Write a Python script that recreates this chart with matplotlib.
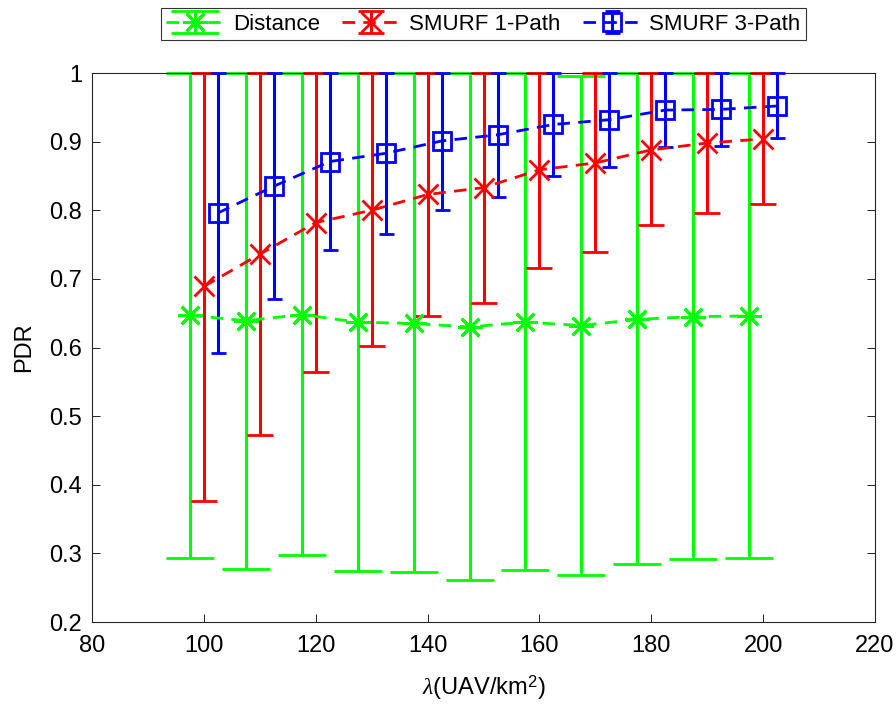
import matplotlib
matplotlib.use('Agg')
import matplotlib.pyplot as plt

plt.rcParams['font.family'] = ['Liberation Sans', 'DejaVu Sans']
plt.rcParams['mathtext.fontset'] = 'custom'
plt.rcParams['mathtext.rm'] = 'Liberation Sans'
plt.rcParams['mathtext.it'] = 'Liberation Serif:italic'

# UAV density (UAV/km^2), series are shifted slightly so bars don't overlap
x_dist = [97.5, 107.5, 117.5, 127.5, 137.5, 147.5, 157.5, 167.5, 177.5, 187.5, 197.5]
x_smurf1 = [100, 110, 120, 130, 140, 150, 160, 170, 180, 190, 200]
x_smurf3 = [102.5, 112.5, 122.5, 132.5, 142.5, 152.5, 162.5, 172.5, 182.5, 192.5, 202.5]

# mean PDR and min/max range for each scheme
dist_mean = [0.647, 0.639, 0.648, 0.637, 0.635, 0.630, 0.637, 0.632, 0.641, 0.645, 0.646]
dist_low = [0.294, 0.277, 0.297, 0.274, 0.273, 0.261, 0.276, 0.268, 0.285, 0.292, 0.294]
dist_high = [1.0, 1.0, 1.0, 1.0, 1.0, 1.0, 1.0, 0.996, 1.0, 1.0, 1.0]

smurf1_mean = [0.689, 0.736, 0.782, 0.800, 0.823, 0.833, 0.859, 0.869, 0.888, 0.898, 0.904]
smurf1_low = [0.376, 0.472, 0.564, 0.602, 0.646, 0.665, 0.716, 0.739, 0.779, 0.796, 0.809]
smurf1_high = [1.0] * 11

smurf3_mean = [0.796, 0.835, 0.871, 0.883, 0.901, 0.910, 0.925, 0.932, 0.946, 0.947, 0.952]
smurf3_low = [0.592, 0.670, 0.742, 0.765, 0.800, 0.820, 0.850, 0.863, 0.892, 0.894, 0.905]
smurf3_high = [1.0] * 11

fig = plt.figure(figsize=(8.96, 7.09), dpi=100)
ax = fig.add_axes([0.1027, 0.1227, 0.8739, 0.7743])

series = [
    ('Distance', x_dist, dist_mean, dist_low, dist_high, '#00ff00', (8, 2, 0), 18, 17),
    ('SMURF 1-Path', x_smurf1, smurf1_mean, smurf1_low, smurf1_high, '#ff0000', 'x', 14, 9.4),
    ('SMURF 3-Path', x_smurf3, smurf3_mean, smurf3_low, smurf3_high, '#0000ff', 's', 13, 5.4),
]

for label, xs, mean, low, high, color, marker, msize, cap in series:
    yerr = [[m - l for m, l in zip(mean, low)], [h - m for m, h in zip(mean, high)]]
    line, caps, bars = ax.errorbar(xs, mean, yerr=yerr, color=color, ecolor=color, elinewidth=2.2,
                                   capsize=cap, capthick=2.2, linestyle=(0, (4.5, 3)), linewidth=2.0,
                                   marker=marker, markersize=msize, markeredgewidth=2.0,
                                   markerfacecolor='none', markeredgecolor=color, label=label)
    # caps sitting on the y=1 limit are drawn in full
    for c in caps:
        c.set_clip_on(False)

ax.set_xlim(80, 220)
ax.set_ylim(0.2, 1.0)
ax.set_xticks(range(80, 221, 20))
ax.set_yticks([0.2, 0.3, 0.4, 0.5, 0.6, 0.7, 0.8, 0.9, 1.0])
ax.set_yticklabels(['0.2', '0.3', '0.4', '0.5', '0.6', '0.7', '0.8', '0.9', '1'])
ax.tick_params(direction='in', length=6, width=0.6, labelsize=17, top=True, right=True)
ax.tick_params(axis='x', pad=9)
ax.tick_params(axis='y', pad=7)
for s in ax.spines.values():
    s.set_linewidth(0.8)
    s.set_color('#262626')

ax.set_xlabel(r'$\it{\lambda}$(UAV/km$^2$)', fontsize=17, labelpad=12)
ax.set_ylabel('PDR', fontsize=17, labelpad=10)

leg = ax.legend(loc='lower center', bbox_to_anchor=(0.5, 1.06), ncol=3, fontsize=16,
                frameon=True, fancybox=False, edgecolor='black', borderaxespad=0,
                handlelength=2.6, columnspacing=1.0, handletextpad=0.4, borderpad=0.25)
leg.get_frame().set_linewidth(0.8)

fig.savefig('out.png', dpi=100)
